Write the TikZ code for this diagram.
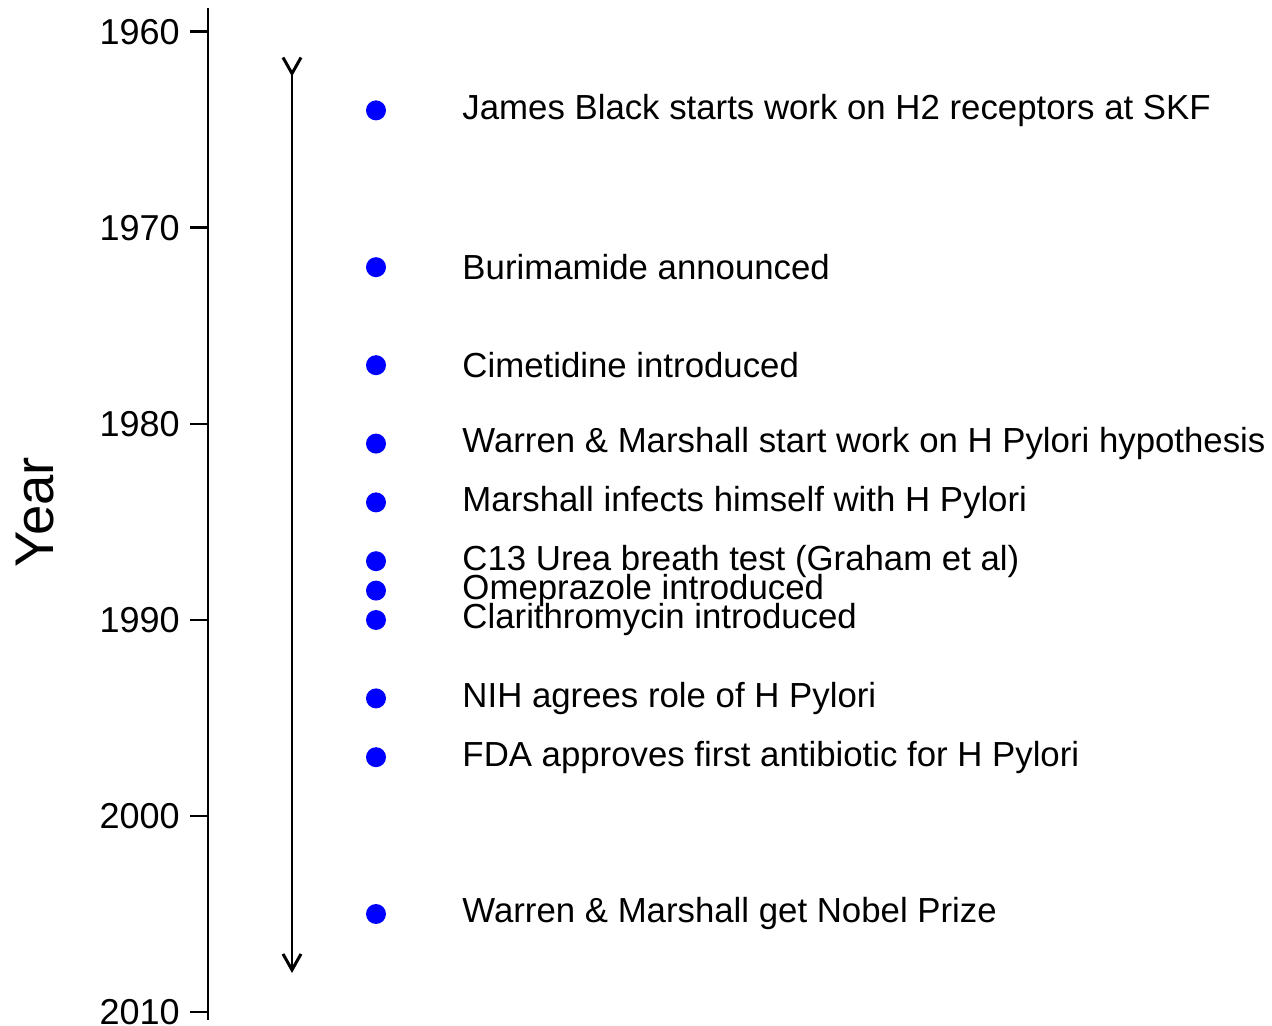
\documentclass[tikz,border=0pt]{standalone}
\usepackage{fontspec}
\setmainfont{Liberation Sans}
\usetikzlibrary{arrows.meta}

\begin{document}
\begin{tikzpicture}[x=.02cm,y=-.02cm,line width=1.7pt,
  lbl/.style={font=\fontsize{19.8}{19.8}\selectfont,inner sep=0pt},
  dot/.style={circle,fill=blue,inner sep=0pt,minimum size=.4cm},
  >={Straight Barb[length=.32cm,width=.36cm,line width=1.7pt]}]
\useasboundingbox(0,0)rectangle(1272,1026);
% year axis
\coordinate(atop)at(208,8);\coordinate(abot)at(208,1020);
\draw(atop)--(abot);
\foreach \yr in {1960,1970,...,2010}{
  \coordinate(t\yr)at(208,{32+(\yr-1960)*19.6});
  \draw(t\yr)--++(-18,0)coordinate(s\yr);
  \node[lbl,font=\fontsize{20.5}{20.5}\selectfont,left=5pt]at(s\yr)(y\yr){\yr};}
\node[font=\fontsize{31}{31}\selectfont,rotate=90,inner sep=0pt](ylab)at(35,512){Year};
% time arrow
\coordinate(rtop)at(292,56);\coordinate(rbot)at(292,973);
\draw[>->](rtop)--(rbot);
% events
\foreach \yr/\txt [count=\i] in {1964/James Black starts work on H2 receptors at SKF,
  1972/Burimamide announced,1977/Cimetidine introduced,
  1981/Warren \& Marshall start work on H Pylori hypothesis,
  1984/Marshall infects himself with H Pylori,
  1987/C13 Urea breath test (Graham et al),1988.5/Omeprazole introduced,
  1990/Clarithromycin introduced,1994/NIH agrees role of H Pylori,
  1997/FDA approves first antibiotic for H Pylori,
  2005/Warren \& Marshall get Nobel Prize}{
  \node[dot](e\i)at(376,{32+(\yr-1960)*19.6}){};
  \node[lbl,anchor=west](l\i)at(461,{32+(\yr-1960)*19.6}){\txt};}
\end{tikzpicture}
\end{document}
